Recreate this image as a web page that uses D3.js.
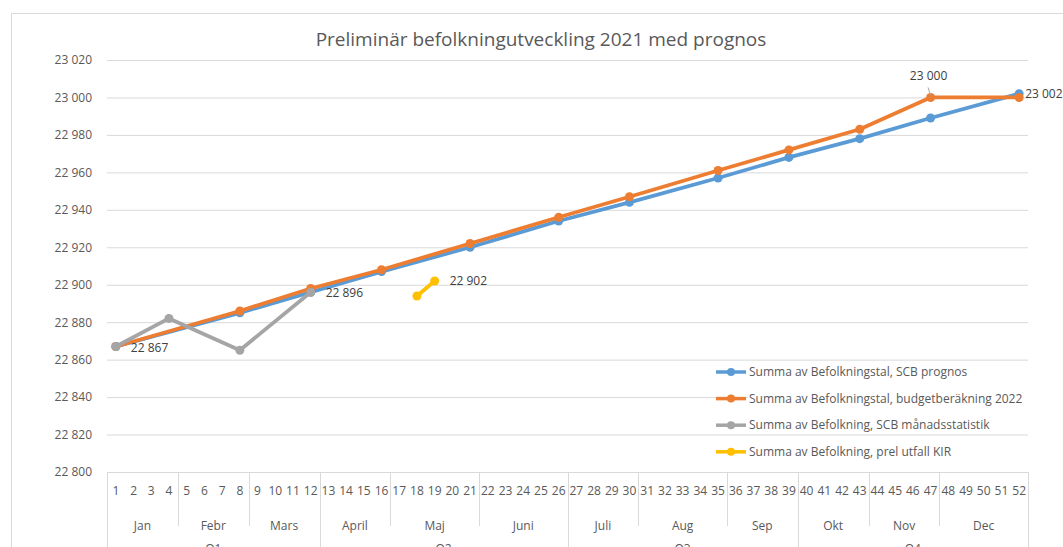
<!DOCTYPE html>
<html>
<head>
<meta charset="utf-8">
<script src="https://cdn.jsdelivr.net/npm/d3@7"></script>
<style>
  body { margin: 0; background: #fff; overflow: hidden; }
  text { font-family: "Open Sans", sans-serif; fill: #595959; }
</style>
</head>
<body>
<div id="chart"></div>
<script>
// category levels
var weeks = [1, 2, 3, 4, 5, 6, 7, 8, 9, 10, 11, 12, 13, 14, 15, 16, 17, 18, 19, 20,
  21, 22, 23, 24, 25, 26, 27, 28, 29, 30, 31, 32, 33, 34, 35, 36, 37, 38, 39, 40,
  41, 42, 43, 44, 45, 46, 47, 48, 49, 50, 51, 52];
var months = ["Jan", "Febr", "Mars", "April", "Maj", "Juni", "Juli", "Aug", "Sep", "Okt", "Nov", "Dec"];
var monthWeeks = [4, 4, 4, 4, 5, 5, 4, 5, 4, 4, 4, 5];
var quarters = ["Q1", "Q2", "Q3", "Q4"];
var quarterWeeks = [12, 14, 13, 13];

// series
var prognosWeeks = [1, 8, 12, 16, 21, 26, 30, 35, 39, 43, 47, 52];
var scbPrognos = [22867, 22885, 22896, 22907, 22920, 22934, 22944, 22957, 22968, 22978, 22989, 23002];
var budget2022 = [22867, 22886, 22898, 22908, 22922, 22936, 22947, 22961, 22972, 22983, 23000, 23000];
var manadWeeks = [1, 4, 8, 12];
var scbManad = [22867, 22882, 22865, 22896];
var kirWeeks = [18, 19];
var prelKir = [22894, 22902];

var yTicks = [22800, 22820, 22840, 22860, 22880, 22900, 22920, 22940, 22960, 22980, 23000, 23020];

var svgWidth = 1063;
var svgHeight = 547;

var svg = d3.select("#chart")
  .append("svg")
  .attr("width", svgWidth)
  .attr("height", svgHeight);

// outer chart border
svg.append("rect")
  .attr("x", 11.5)
  .attr("y", 13.5)
  .attr("width", 1200)
  .attr("height", 700)
  .attr("fill", "none")
  .attr("stroke", "#d9d9d9");

svg.append("text")
  .attr("x", 541)
  .attr("y", 46)
  .attr("text-anchor", "middle")
  .attr("font-size", 19)
  .text("Preliminär befolkningutveckling 2021 med prognos");

var x = d3.scaleBand()
  .domain(weeks)
  .range([107, 1028]);

var y = d3.scaleLinear()
  .domain([22800, 23020])
  .range([472, 60]);

var fmt = function(v) { return d3.format(",")(v).replace(",", " "); };

// gridlines + y labels
var yAxis = svg.append("g")
  .attr("transform", "translate(107,0)")
  .call(d3.axisLeft(y).tickValues(yTicks).tickSize(-(1028 - 107)).tickPadding(15).tickFormat(fmt));
yAxis.select(".domain").remove();
yAxis.selectAll(".tick line").attr("stroke", "#d9d9d9");
yAxis.selectAll(".tick text")
  .attr("font-size", 12)
  .attr("fill", "#595959")
  .attr("font-family", "Open Sans, sans-serif");

// category box
var boxTop = y(22800);
svg.append("line")
  .attr("x1", 107.5).attr("x2", 107.5)
  .attr("y1", boxTop).attr("y2", svgHeight + 10)
  .attr("stroke", "#d9d9d9");
svg.append("line")
  .attr("x1", 1028.5).attr("x2", 1028.5)
  .attr("y1", boxTop).attr("y2", svgHeight + 10)
  .attr("stroke", "#d9d9d9");

svg.append("g").selectAll("text")
  .data(weeks)
  .enter()
  .append("text")
  .attr("x", d => x(d) + x.bandwidth() / 2)
  .attr("y", 495)
  .attr("text-anchor", "middle")
  .attr("font-size", 12)
  .text(d => d);

// month groups
var start = 0;
var monthData = months.map(function(m, i) {
  var o = { name: m, first: weeks[start], last: weeks[start + monthWeeks[i] - 1] };
  start += monthWeeks[i];
  return o;
});
svg.append("g").selectAll("text")
  .data(monthData)
  .enter()
  .append("text")
  .attr("x", d => (x(d.first) + x(d.last) + x.bandwidth()) / 2)
  .attr("y", 530)
  .attr("text-anchor", "middle")
  .attr("font-size", 12)
  .text(d => d.name);
svg.append("g").selectAll("line")
  .data(monthData.slice(1))
  .enter()
  .append("line")
  .attr("x1", d => Math.round(x(d.first)) + 0.5)
  .attr("x2", d => Math.round(x(d.first)) + 0.5)
  .attr("y1", boxTop)
  .attr("y2", 526)
  .attr("stroke", "#d9d9d9");

// quarter groups (partly cut by the bottom edge, as in the original)
start = 0;
var quarterData = quarters.map(function(q, i) {
  var o = { name: q, first: weeks[start], last: weeks[start + quarterWeeks[i] - 1] };
  start += quarterWeeks[i];
  return o;
});
svg.append("g").selectAll("text")
  .data(quarterData)
  .enter()
  .append("text")
  .attr("x", d => (x(d.first) + x(d.last) + x.bandwidth()) / 2)
  .attr("y", 553)
  .attr("text-anchor", "middle")
  .attr("font-size", 12)
  .text(d => d.name);
svg.append("g").selectAll("line")
  .data(quarterData.slice(1))
  .enter()
  .append("line")
  .attr("x1", d => Math.round(x(d.first)) + 0.5)
  .attr("x2", d => Math.round(x(d.first)) + 0.5)
  .attr("y1", boxTop)
  .attr("y2", svgHeight + 10)
  .attr("stroke", "#d9d9d9");

// series
var series = [
  { name: "Summa av Befolkningstal, SCB prognos", color: "#5b9bd5", weeks: prognosWeeks, values: scbPrognos },
  { name: "Summa av Befolkningstal, budgetberäkning 2022", color: "#ed7d31", weeks: prognosWeeks, values: budget2022 },
  { name: "Summa av Befolkning, SCB månadsstatistik", color: "#a5a5a5", weeks: manadWeeks, values: scbManad },
  { name: "Summa av Befolkning, prel utfall KIR", color: "#ffc000", weeks: kirWeeks, values: prelKir }
];

var cx = w => x(w) + x.bandwidth() / 2;
var line = d3.line()
  .x(d => cx(d[0]))
  .y(d => y(d[1]));

series.forEach(function(s) {
  var pts = s.weeks.map((w, i) => [w, s.values[i]]);
  svg.append("path")
    .datum(pts)
    .attr("d", line)
    .attr("fill", "none")
    .attr("stroke", s.color)
    .attr("stroke-width", 3.75)
    .attr("stroke-linejoin", "round")
    .attr("stroke-linecap", "round");
  svg.append("g").selectAll("circle")
    .data(pts)
    .enter()
    .append("circle")
    .attr("cx", d => cx(d[0]))
    .attr("cy", d => y(d[1]))
    .attr("r", 4.5)
    .attr("fill", s.color);
});

// data labels
var labels = [
  { week: 1, value: 22867, dx: 15, dy: 5, anchor: "start" },
  { week: 12, value: 22896, dx: 15, dy: 5, anchor: "start" },
  { week: 19, value: 22902, dx: 15, dy: 4, anchor: "start" },
  { week: 52, value: 23002, dx: 6, dy: 4, anchor: "start" }
];
svg.append("g").selectAll("text")
  .data(labels)
  .enter()
  .append("text")
  .attr("x", d => cx(d.week) + d.dx)
  .attr("y", d => y(d.value) + d.dy)
  .attr("text-anchor", d => d.anchor)
  .attr("font-size", 12)
  .style("fill", "#404040")
  .text(d => fmt(d.value));

// 23 000 label above the orange point, with leader line
svg.append("text")
  .attr("x", cx(47) - 2)
  .attr("y", y(23000) - 17)
  .attr("text-anchor", "middle")
  .attr("font-size", 12)
  .style("fill", "#404040")
  .text(fmt(23000));
svg.append("line")
  .attr("x1", cx(47) - 2.5).attr("y1", y(23000) - 10)
  .attr("x2", cx(47)).attr("y2", y(23000) - 2)
  .attr("stroke", "#a6a6a6");

// legend
var legend = svg.append("g")
  .attr("transform", "translate(716, 372)");
var items = legend.selectAll("g")
  .data(series)
  .enter()
  .append("g")
  .attr("transform", (d, i) => `translate(0, ${i * 26.6})`);
items.append("rect")
  .attr("x", 32)
  .attr("y", -8)
  .attr("width", 280)
  .attr("height", 16)
  .attr("fill", "#fff");
items.append("line")
  .attr("x1", 0).attr("x2", 30)
  .attr("stroke", d => d.color)
  .attr("stroke-width", 3.5);
items.append("circle")
  .attr("cx", 15)
  .attr("r", 4)
  .attr("fill", d => d.color);
items.append("text")
  .attr("x", 33)
  .attr("y", 4)
  .attr("font-size", 12)
  .text(d => d.name);
</script>
</body>
</html>
